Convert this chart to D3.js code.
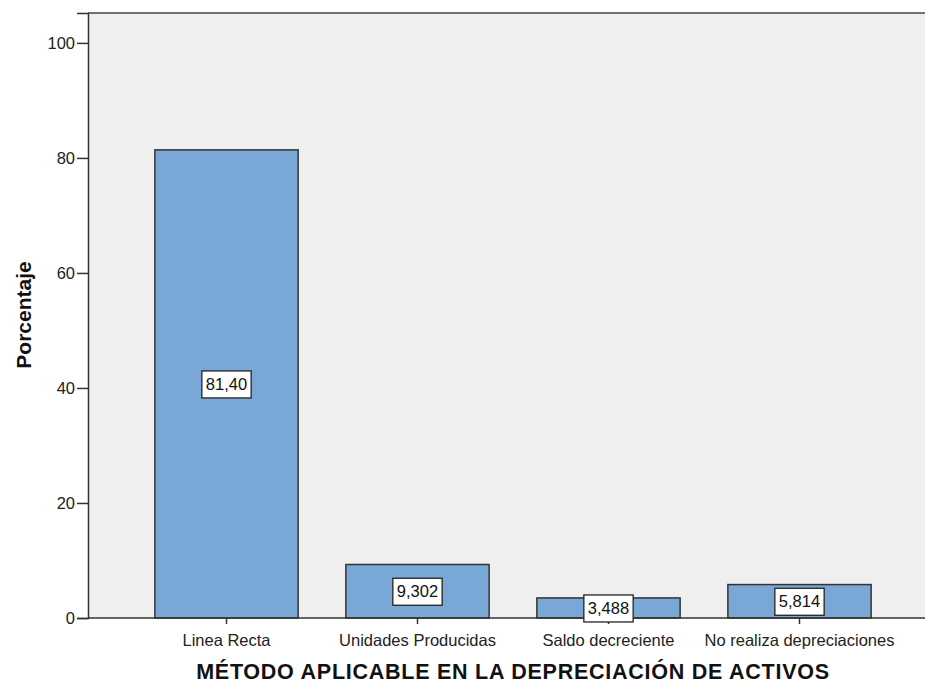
<!DOCTYPE html>
<html><head><meta charset="utf-8">
<script src="https://cdn.jsdelivr.net/npm/d3@7"></script>
<style>body{margin:0;background:#fff;} text{font-family:"Liberation Sans",Arial,sans-serif;}</style>
</head><body>
<svg id="c" width="925" height="684"></svg>
<script>
const categories = ["Linea Recta","Unidades Producidas","Saldo decreciente","No realiza depreciaciones"];
const values = [81.40, 9.302, 3.488, 5.814];
const valueLabels = ["81,40","9,302","3,488","5,814"];
const yTicks = [0,20,40,60,80,100];
const yTitle = "Porcentaje";
const xTitle = "MÉTODO APLICABLE EN LA DEPRECIACIÓN DE ACTIVOS";

(function(){
const svg = d3.select("#c");
const pL = 88, pT = 13, pR = 925, pB = 618;
const ff = "'Liberation Sans',Arial,sans-serif";
const y = d3.scaleLinear().domain([0,105.2]).range([pB, pT]);
const x = d3.scaleBand().domain(categories).range([131, 895]).paddingInner(0.25).paddingOuter(0.125);

svg.append("rect").attr("x",pL).attr("y",pT).attr("width",pR-pL).attr("height",pB-pT).attr("fill","#efefef");

svg.selectAll("rect.bar").data(values).enter().append("rect")
  .attr("class","bar")
  .attr("x",(d,i)=>x(categories[i]))
  .attr("y",d=>y(d))
  .attr("width",x.bandwidth())
  .attr("height",d=>pB-y(d))
  .attr("fill","#79a8d6").attr("stroke","#333").attr("stroke-width",1.5);

svg.append("line").attr("x1",pL).attr("x2",pR).attr("y1",pT).attr("y2",pT).attr("stroke","#444").attr("stroke-width",1.5);

const yAxis = svg.append("g").attr("transform",`translate(${pL},0)`)
  .call(d3.axisLeft(y).tickValues(yTicks).tickSize(11).tickPadding(2).tickFormat(d3.format("d")));
yAxis.select(".domain").attr("stroke","#333").attr("stroke-width",1.5);
yAxis.selectAll(".tick line").attr("stroke","#333").attr("stroke-width",1.5);
yAxis.selectAll("text").attr("font-size",16.5).attr("fill","#222").style("font-family",ff);

const xAxis = svg.append("g").attr("transform",`translate(0,${pB})`)
  .call(d3.axisBottom(x).tickSize(6).tickPadding(10).tickSizeOuter(0));
xAxis.select(".domain").remove();
svg.append("line").attr("x1",pL).attr("x2",pR).attr("y1",pB).attr("y2",pB).attr("stroke","#333").attr("stroke-width",1.5);
xAxis.selectAll(".tick line").attr("stroke","#333").attr("stroke-width",1.5);
xAxis.selectAll("text").attr("font-size",16.5).attr("fill","#222").style("font-family",ff);

const lg = svg.selectAll("g.lbl").data(values).enter().append("g").attr("class","lbl")
  .attr("transform",(d,i)=>`translate(${x(categories[i])+x.bandwidth()/2},${y(d/2)})`);
lg.each(function(d,i){
  const g = d3.select(this);
  const t = g.append("text").attr("text-anchor","middle").attr("dy","0.36em").attr("font-size",16.5).attr("fill","#111").text(valueLabels[i]);
  const w = t.node().getComputedTextLength();
  g.insert("rect","text").attr("x",-w/2-4).attr("y",-13).attr("width",w+8).attr("height",27)
    .attr("fill","#fff").attr("stroke","#222").attr("stroke-width",1.3);
});

svg.append("text").attr("transform","translate(31,315) rotate(-90)").attr("text-anchor","middle")
  .attr("font-size",21).attr("font-weight","bold").attr("fill","#111").text(yTitle);
svg.append("text").attr("x",513).attr("y",678.5).attr("text-anchor","middle")
  .attr("font-size",21.5).attr("letter-spacing","0.75px").attr("font-weight","bold").attr("fill","#111").text(xTitle);
})();
</script>
</body></html>
